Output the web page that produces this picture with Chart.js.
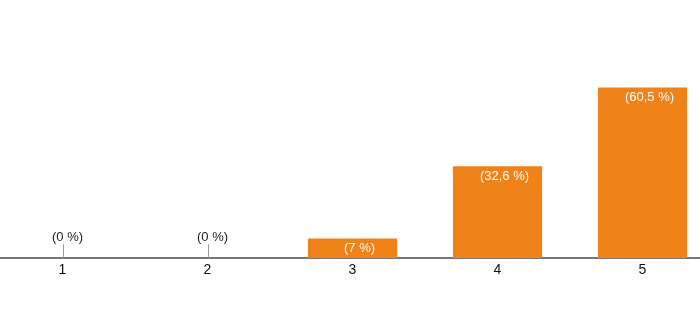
<!DOCTYPE html>
<html>
<head>
<meta charset="utf-8">
<script src="https://cdn.jsdelivr.net/npm/chart.js@4"></script>
<style>
  html,body{margin:0;padding:0;overflow:hidden;background:#fff;}
  #wrap{position:absolute;left:-10px;top:0;width:725px;height:333px;}
</style>
</head>
<body>
<div id="wrap"><canvas id="answers"></canvas></div>
<script>
const categories=["1","2","3","4","5"]
const percents=[0,0,7,32.6,60.5]

const barColor="#ef8219"

// "(32,6 %)" style, comma as decimal mark
function pctLabel(v){
    return "("+String(v).replace(".",",")+" %)"
}

const valueLabels={
    id:"valueLabels",
    afterDatasetsDraw(chart){
        const c=chart.ctx
        const meta=chart.getDatasetMeta(0)
        c.save()
        c.font="13px 'Liberation Sans', Arial, sans-serif"
        c.textAlign="center"
        c.textBaseline="middle"
        meta.data.forEach((bar,i)=>{
            const v=percents[i]
            if(v>0){
                c.fillStyle="#fff"
                c.fillText(pctLabel(v),bar.x+7,bar.y+10)
            }else{
                c.strokeStyle="#999"
                c.lineWidth=1
                c.beginPath()
                c.moveTo(Math.round(bar.x)+0.5,bar.base)
                c.lineTo(Math.round(bar.x)+0.5,bar.base-14)
                c.stroke()
                c.fillStyle="#222"
                c.fillText(pctLabel(v),bar.x+5,bar.base-21)
            }
        })
        c.restore()
    }
}

new Chart(document.getElementById("answers"),{
    type:"bar",
    data:{
        labels:categories,
        datasets:[{
            data:percents,
            backgroundColor:barColor,
            borderWidth:0,
            categoryPercentage:1,
            barPercentage:0.615,
        }],
    },
    options:{
        responsive:true,
        maintainAspectRatio:false,
        animation:false,
        layout:{padding:{top:0,left:0,right:0,bottom:50}},
        plugins:{
            legend:{display:false},
            tooltip:{enabled:false},
        },
        scales:{
            x:{
                grid:{display:false,drawTicks:false},
                border:{display:true,color:"#777",width:2},
                ticks:{
                    color:"#111",
                    padding:4,
                    font:{family:"'Liberation Sans', Arial, sans-serif",size:14},
                },
            },
            y:{
                display:false,
                min:0,
                max:91.5,
            },
        },
    },
    plugins:[valueLabels],
})
</script>
</body>
</html>
